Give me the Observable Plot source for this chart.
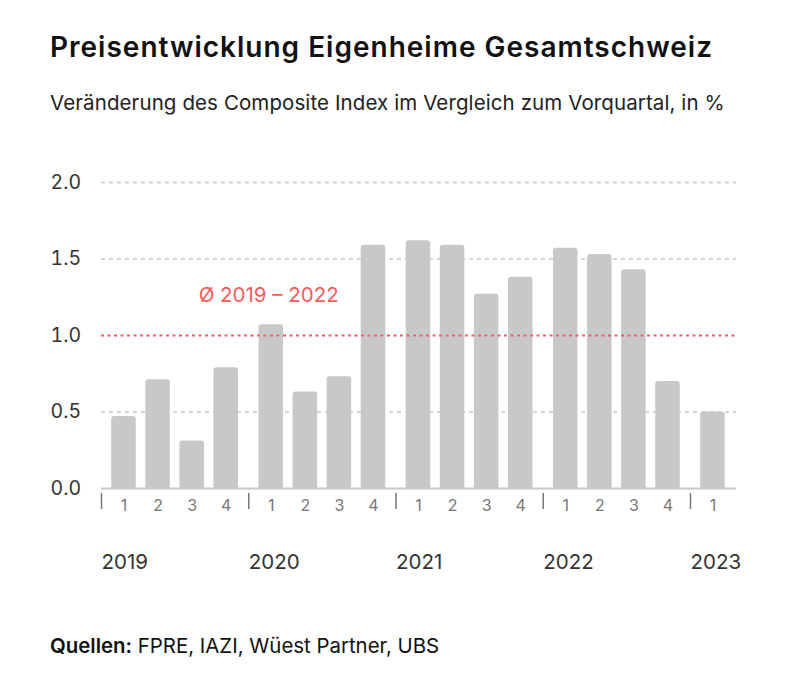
<!DOCTYPE html>
<html>
<head>
<meta charset="utf-8">
<script src="https://cdn.jsdelivr.net/npm/d3@7"></script>
<script src="https://cdn.jsdelivr.net/npm/@observablehq/plot@0.6"></script>
<style>
  html, body { margin: 0; padding: 0; background: #fff; }
  #wrap { position: relative; width: 788px; height: 685px; font-family: Inter, "Noto Sans", sans-serif; color: #111; }
  #title { position: absolute; left: 50px; top: 31px; font-size: 28px; font-weight: 600; line-height: 32px; white-space: nowrap; letter-spacing: 1px; }
  #subtitle { position: absolute; left: 50px; top: 91px; font-size: 20.5px; line-height: 24px; color: #222; white-space: nowrap; letter-spacing: 0.1px; }
  #chart { position: absolute; left: 0; top: 140px; }
  #caption { position: absolute; left: 50px; top: 634px; font-size: 20.4px; line-height: 24px; color: #111; white-space: nowrap; }
  #caption b { font-weight: 600; }
</style>
</head>
<body>
<div id="wrap">
  <div id="title">Preisentwicklung Eigenheime Gesamtschweiz</div>
  <div id="subtitle">Veränderung des Composite Index im Vergleich zum Vorquartal, in %</div>
  <div id="chart"></div>
  <div id="caption"><b>Quellen:</b> FPRE, IAZI, Wüest Partner, UBS</div>
</div>
<script>
// Data
const years = [2019, 2019, 2019, 2019, 2020, 2020, 2020, 2020, 2021, 2021, 2021, 2021, 2022, 2022, 2022, 2022, 2023];
const quarters = [1, 2, 3, 4, 1, 2, 3, 4, 1, 2, 3, 4, 1, 2, 3, 4, 1];
const values = [0.47, 0.71, 0.31, 0.79, 1.07, 0.63, 0.73, 1.59, 1.62, 1.59, 1.27, 1.38, 1.57, 1.53, 1.43, 0.70, 0.50];
const yearLabels = [2019, 2020, 2021, 2022, 2023];
const yTicks = [0, 0.5, 1, 1.5, 2];
const average = 1.0;
const averageLabel = "Ø 2019 – 2022";

// Layout constants (in quarter units)
const yearGap = 0.32;
const halfBar = 0.36;
const tickOffset = 0.66;
const pos = (y, q) => (y - yearLabels[0]) * (4 + yearGap) + (q - 1);

const table = values.map((v, i) => ({year: years[i], q: quarters[i], value: v, pos: pos(years[i], quarters[i])}));
const yearTable = yearLabels.map(y => ({year: y, tick: pos(y, 1) - tickOffset}));
const lastPos = pos(yearLabels[yearLabels.length - 1], 1);

const red = "#ff5a5a";
const grey = "#c8c8c8";

const chart = Plot.plot({
  width: 788,
  height: 440,
  marginTop: 42,
  marginBottom: 92,
  marginLeft: 101,
  marginRight: 52,
  style: {fontFamily: "Inter, 'Noto Sans', sans-serif", background: "transparent"},
  x: {type: "linear", domain: [-tickOffset, lastPos + 0.69], axis: null},
  y: {domain: [0, 2], axis: null},
  marks: [
    Plot.ruleY(yTicks.filter(t => t !== 0 && t !== average), {stroke: grey, strokeWidth: 1.5, strokeDasharray: "4,4"}),
    Plot.rectY(table, {x1: d => d.pos - halfBar, x2: d => d.pos + halfBar, y1: -0.05, y2: "value", fill: grey, rx: 3, clip: true}),
    Plot.ruleY([0], {stroke: grey, strokeWidth: 2}),
    Plot.ruleY([average], {stroke: red, strokeWidth: 2, strokeDasharray: "3,3.5"}),
    Plot.text([averageLabel], {x: [2.19], y: [1.26], text: d => d, textAnchor: "start", fill: red, fontSize: 20.5}),
    Plot.axisY({ticks: yTicks, tickFormat: d3.format(".1f"), tickSize: 0, tickPadding: 51, textAnchor: "start", fontSize: 19.5, fill: "#333", label: null}),
    Plot.text(table, {x: "pos", text: d => String(d.q), frameAnchor: "bottom", dy: 22, fontSize: 16, fill: "#777"}),
    Plot.axisX(yearTable.map(d => d.tick), {tickSize: 16, dy: 5, tickFormat: () => "", stroke: "#777", strokeWidth: 1.5, label: null}),
    Plot.text(yearTable, {x: "tick", text: d => String(d.year), frameAnchor: "bottom", textAnchor: "start", dy: 80, fontSize: 20.5, fill: "#333"})
  ]
});
document.getElementById("chart").appendChild(chart);
</script>
</body>
</html>
